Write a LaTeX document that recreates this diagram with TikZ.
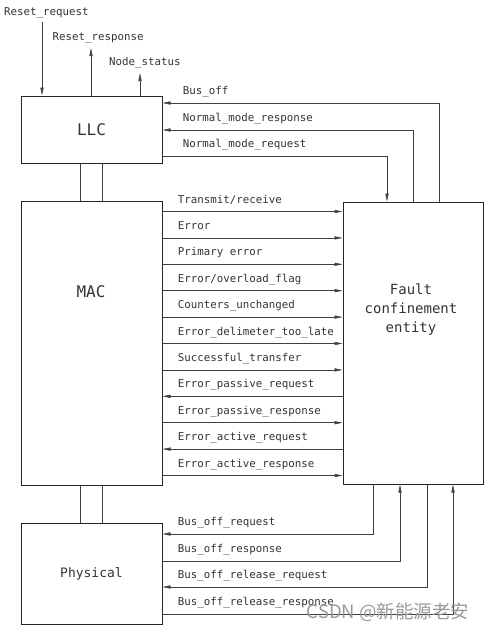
\documentclass[tikz,border=0pt]{standalone}
\usepackage{fontspec}
\setmonofont{DejaVu Sans Mono}
\newfontfamily\cjkfont{Noto Sans CJK SC}
\usetikzlibrary{arrows.meta, calc, positioning}

\begin{document}
\begin{tikzpicture}[x=1pt, y=-1pt,
        every node/.style={font=\ttfamily\fontsize{10.8}{13}\selectfont, text=black!80},
        blk/.style={draw=black!85, line width=1pt, minimum width=141pt, inner sep=0pt},
        wire/.style={draw=black!75, line width=0.6pt},
        sig/.style={wire, -{Triangle[length=8pt, width=3.2pt]}},
        lab/.style={anchor=base west, inner sep=0pt, xshift=#1, yshift=8.5pt},
        lab/.default=15pt]

    \useasboundingbox (0,0) rectangle (490,632);

    % blocks
    \node[blk, minimum height=67pt, font=\ttfamily\fontsize{16}{19}\selectfont] (llc) at (91.5,129.5) {LLC};
    \node[blk, minimum height=284pt] (mac) at (91.5,343) {};
    \node[font=\ttfamily\fontsize{16}{19}\selectfont] (mactxt) at (91,292) {MAC};
    \node[blk, minimum height=101pt, font=\ttfamily\fontsize{13}{16}\selectfont] (phy) at (91.5,573.5) {Physical};
    \node[blk, minimum width=140pt, minimum height=282pt] (fce) at (413,343) {};
    \node[align=center, font=\ttfamily\fontsize{14}{19}\selectfont] (fcetxt) at (411,310) {Fault\\confinement\\entity};

    % layer links
    \draw[wire] (llc.south -| 80,0) -- (mac.north -| 80,0);
    \draw[wire] (llc.south -| 102,0) -- (mac.north -| 102,0);
    \draw[wire] (mac.south -| 80,0) -- (phy.north -| 80,0);
    \draw[wire] (mac.south -| 102,0) -- (phy.north -| 102,0);

    % LLC top
    \coordinate (rreq) at (42,22);
    \coordinate (rres) at (91,48);
    \coordinate (nst) at (140,73);
    \draw[sig] (rreq) -- (llc.north -| rreq);
    \draw[sig] (llc.north -| rres) -- (rres);
    \draw[sig] (llc.north -| nst) -- (nst);
    \node[anchor=base west, inner sep=0pt] (lrreq) at (4,15) {Reset\_request};
    \node[anchor=base west, inner sep=0pt] (lrres) at (52.5,40) {Reset\_response};
    \node[anchor=base west, inner sep=0pt] (lnst) at (109,65) {Node\_status};

    % LLC <-> fault confinement
    \draw[sig] (fce.north -| 439,0) |- node[lab=20pt, pos=1] (lbo) {Bus\_off} (llc.east |- 0,103);
    \draw[sig] (fce.north -| 413,0) |- node[lab=20pt, pos=1] (lnmres) {Normal\_mode\_response} (llc.east |- 0,130);
    \draw[sig] (llc.east |- 0,156) -| node[lab=20pt, pos=0] (lnmreq) {Normal\_mode\_request} (fce.north -| 387,0);

    % MAC <-> fault confinement
    \draw[sig] (mac.east |- 0,211.5) -- node[lab, pos=0] (ltr) {Transmit/receive} (fce.west |- 0,211.5);
    \draw[sig] (mac.east |- 0,237.9) -- node[lab, pos=0] (lerr) {Error} (fce.west |- 0,237.9);
    \draw[sig] (mac.east |- 0,264.3) -- node[lab, pos=0] (lperr) {Primary error} (fce.west |- 0,264.3);
    \draw[sig] (mac.east |- 0,290.7) -- node[lab, pos=0] (leof) {Error/overload\_flag} (fce.west |- 0,290.7);
    \draw[sig] (mac.east |- 0,317.1) -- node[lab, pos=0] (lcu) {Counters\_unchanged} (fce.west |- 0,317.1);
    \draw[sig] (mac.east |- 0,343.5) -- node[lab, pos=0] (ledl) {Error\_delimeter\_too\_late} (fce.west |- 0,343.5);
    \draw[sig] (mac.east |- 0,369.9) -- node[lab, pos=0] (lst) {Successful\_transfer} (fce.west |- 0,369.9);
    \draw[sig] (fce.west |- 0,396.3) -- node[lab, pos=1] (lepreq) {Error\_passive\_request} (mac.east |- 0,396.3);
    \draw[sig] (mac.east |- 0,422.7) -- node[lab, pos=0] (lepres) {Error\_passive\_response} (fce.west |- 0,422.7);
    \draw[sig] (fce.west |- 0,449.1) -- node[lab, pos=1] (leareq) {Error\_active\_request} (mac.east |- 0,449.1);
    \draw[sig] (mac.east |- 0,475.5) -- node[lab, pos=0] (leares) {Error\_active\_response} (fce.west |- 0,475.5);

    % Physical <-> fault confinement
    \draw[sig] (fce.south -| 373,0) |- node[lab, pos=1] (lboreq) {Bus\_off\_request} (phy.east |- 0,534);
    \draw[sig] (phy.east |- 0,561) -| node[lab, pos=0] (lbores) {Bus\_off\_response} (fce.south -| 400,0);
    \draw[sig] (fce.south -| 427,0) |- node[lab, pos=1] (lborreq) {Bus\_off\_release\_request} (phy.east |- 0,587);
    \draw[sig] (phy.east |- 0,614) -| node[lab, pos=0] (lborres) {Bus\_off\_release\_response} (fce.south -| 453,0);

    % watermark
    \node[text=black!40, font=\cjkfont\fontsize{18.5}{22}\selectfont] (wm) at (388,612) {CSDN @新能源老安};
\end{tikzpicture}
\end{document}
